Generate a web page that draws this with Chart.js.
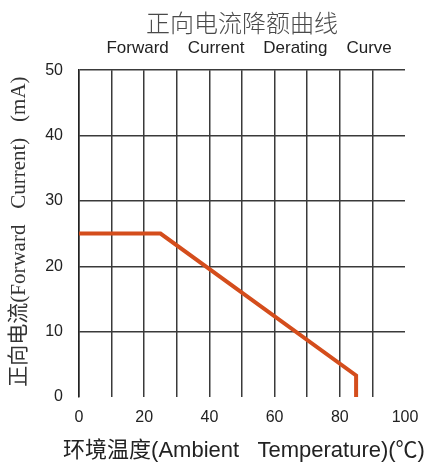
<!DOCTYPE html>
<html>
<head>
<meta charset="utf-8">
<script src="https://cdn.jsdelivr.net/npm/chart.js"></script>
<style>
  html, body { margin: 0; padding: 0; background: #fff; }
  #wrap { width: 430px; height: 466px; }
</style>
</head>
<body>
<div id="wrap"><canvas id="derating" width="430" height="466"></canvas></div>
<script>
// --- chart data ---
const temps = [0, 25, 85, 85];          // ambient temperature (°C)
const currents = [25, 25, 3.3, 0];      // forward current (mA)
const xTicks = [0, 20, 40, 60, 80, 100];
const yTicks = [0, 10, 20, 30, 40, 50];

const titleText = '正向电流降额曲线';
const subtitleText = '   Forward    Current    Derating    Curve';
const xTitle = '环境温度(Ambient   Temperature)(℃)';
const yTitle = '正向电流(Forward   Current)   (mA)';

const gridColor = '#3a3a3a';

// axis titles are wider than the plot, so draw them without Chart.js' maxWidth squeeze
const axisTitles = {
    id: 'axisTitles',
    afterDraw(chart) {
        const { ctx, chartArea } = chart;
        ctx.save();
        ctx.fillStyle = '#222';
        ctx.textAlign = 'center';
        ctx.textBaseline = 'alphabetic';
        ctx.font = '22px "Liberation Sans", Arial, "Noto Sans CJK SC", sans-serif';
        ctx.fillText(xTitle, (chartArea.left + chartArea.right) / 2 + 2, 457);

        ctx.translate(19, (chartArea.top + chartArea.bottom) / 2 - 2);
        ctx.rotate(-Math.PI / 2);
        ctx.fillStyle = '#333';
        ctx.textBaseline = 'middle';
        ctx.font = '21px "Liberation Serif", "Times New Roman", "Noto Sans CJK SC", serif';
        ctx.fillText(yTitle, 0, 0);
        ctx.restore();
    }
};

const ctx = document.getElementById('derating').getContext('2d');
const chart = new Chart(ctx, {
    type: 'line',
    data: {
        datasets: [{
            data: temps.map((t, i) => ({ x: t, y: currents[i] })),
            borderColor: '#d44d1c',
            borderWidth: 4,
            pointRadius: 0,
            tension: 0,
            fill: false
        }]
    },
    options: {
        responsive: false,
        animation: false,
        layout: { padding: { left: 6, right: 25, top: 6, bottom: 0 } },
        plugins: {
            legend: { display: false },
            tooltip: { enabled: false },
            title: {
                display: true,
                text: titleText,
                fullSize: false,
                color: '#4a4a4a',
                font: { family: '"Noto Sans CJK SC", sans-serif', size: 24, weight: 300 },
                padding: { top: 2, bottom: 0 }
            },
            subtitle: {
                display: true,
                text: subtitleText,
                fullSize: false,
                color: '#222',
                font: { family: '"Liberation Sans", Arial, sans-serif', size: 17 },
                padding: { top: 1, bottom: 12 }
            }
        },
        scales: {
            x: {
                type: 'linear',
                min: 0,
                max: 100,
                afterBuildTicks: (s) => { s.ticks = [0,10,20,30,40,50,60,70,80,90,100].map(v => ({ value: v })); },
                ticks: {
                    padding: 11,
                    color: '#222',
                    font: { family: '"Liberation Sans", Arial, sans-serif', size: 16 },
                    maxRotation: 0,
                    autoSkip: false,
                    callback: (v) => xTicks.includes(v) ? v : ''
                },
                grid: {
                    drawTicks: false,
                    lineWidth: 1.5,
                    color: (c) => c.tick && c.tick.value === 100 ? 'rgba(0,0,0,0)' : gridColor
                },
                border: { display: false },
                title: { display: false },
                afterFit: (s) => { s.height = 69; }
            },
            y: {
                min: 0,
                max: 50,
                afterBuildTicks: (s) => { s.ticks = yTicks.map(v => ({ value: v })); },
                ticks: {
                    padding: 16,
                    color: '#222',
                    font: { family: '"Liberation Sans", Arial, sans-serif', size: 16 }
                },
                grid: {
                    drawTicks: false,
                    lineWidth: 1.5,
                    color: (c) => c.tick && c.tick.value === 0 ? 'rgba(0,0,0,0)' : gridColor
                },
                border: { display: true, color: '#222', width: 1.5 },
                title: { display: false },
                afterFit: (s) => { s.width = 73; }
            }
        }
    },
    plugins: [axisTitles]
});
</script>
</body>
</html>
